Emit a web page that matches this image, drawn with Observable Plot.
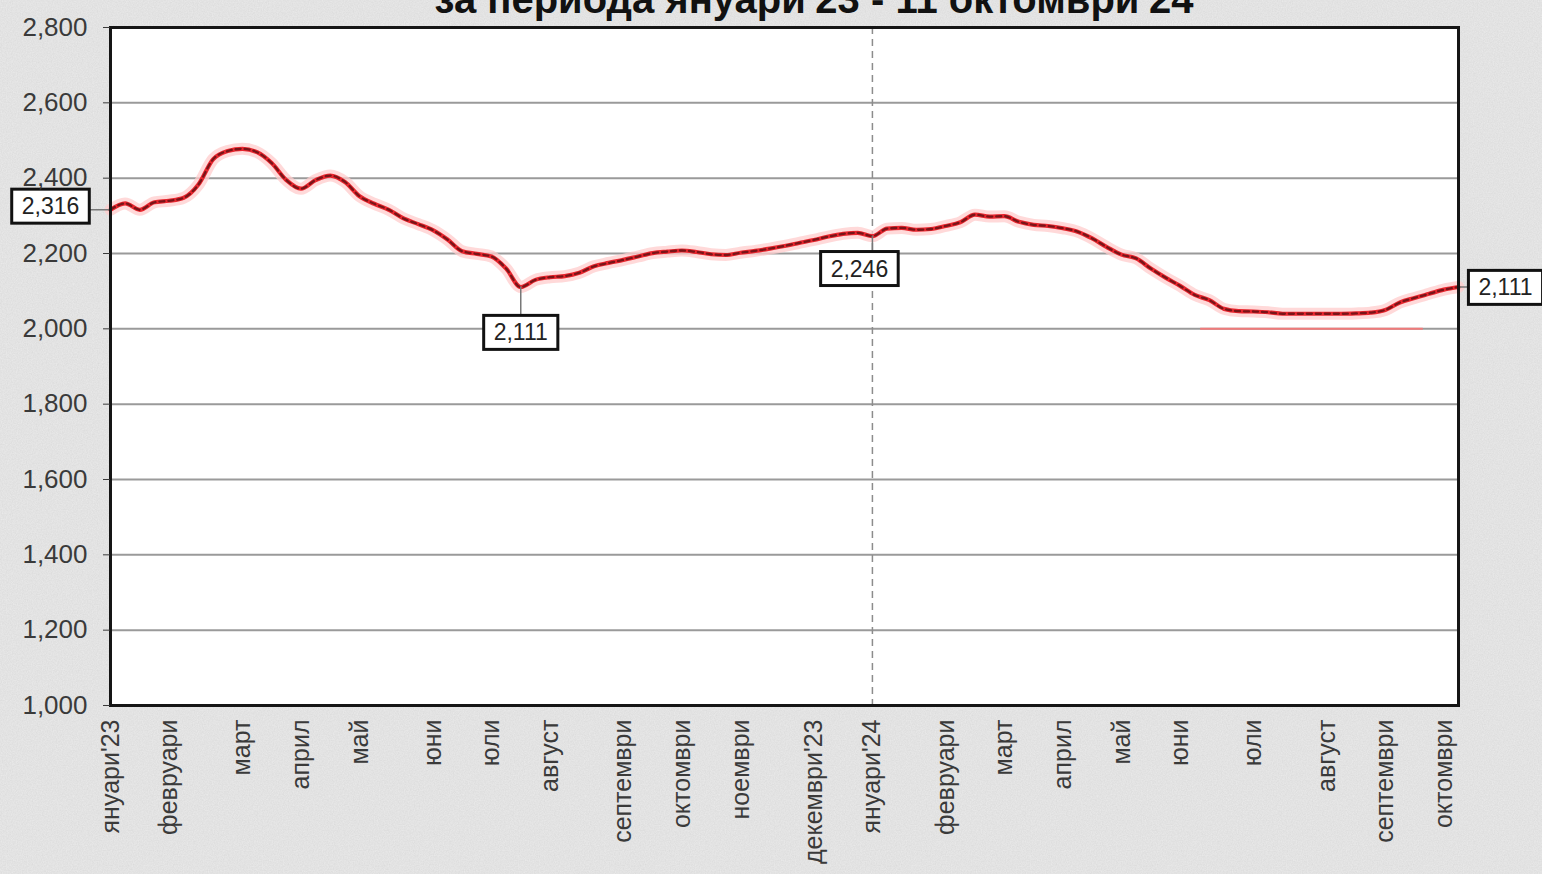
<!DOCTYPE html>
<html>
<head>
<meta charset="utf-8">
<script src="https://cdn.jsdelivr.net/npm/d3@7"></script>
<script src="https://cdn.jsdelivr.net/npm/@observablehq/plot@0.6"></script>
<style>
html, body { margin: 0; padding: 0; }
body {
  width: 1542px; height: 874px; overflow: hidden; position: relative;
  background-color: #ebebeb;
  background-image: url("data:image/svg+xml;utf8,<svg xmlns='http://www.w3.org/2000/svg' width='256' height='256'><filter id='n'><feTurbulence type='fractalNoise' baseFrequency='0.8' numOctaves='2' stitchTiles='stitch'/><feColorMatrix values='0 0 0 0 0.45  0 0 0 0 0.45  0 0 0 0 0.45  0 0 0 0.3 0'/></filter><rect width='100%' height='100%' filter='url(%23n)'/></svg>");
  font-family: "Liberation Sans", Arial, sans-serif;
}
#chart { position: absolute; left: 0; top: 0; }
#title {
  position: absolute; left: 814px; top: -21px; transform: translateX(-50%);
  white-space: nowrap; font-weight: bold; font-size: 40px; line-height: 40px; color: #111;
  font-family: "Liberation Sans", Arial, sans-serif;
}
</style>
</head>
<body>
<div id="chart"></div>
<div id="title">за периода януари'23 - 11 октомври'24</div>
<script>
// Weekly price values, January 2023 – 11 October 2024
const prices = [
  2316, 2333, 2316, 2336, 2340, 2348, 2383, 2450, 2472, 2478,
  2469, 2440, 2395, 2372, 2395, 2407, 2390, 2352, 2332, 2316,
  2293, 2278, 2262, 2237, 2206, 2199, 2192, 2160, 2111, 2130,
  2137, 2140, 2149, 2166, 2175, 2183, 2192, 2201, 2205, 2208,
  2204, 2198, 2196, 2202, 2207, 2213, 2220, 2228, 2236, 2245,
  2252, 2255, 2246, 2266, 2268, 2263, 2265, 2273, 2283, 2303,
  2298, 2299, 2284, 2276, 2273, 2267, 2258, 2240, 2217, 2197,
  2187, 2160, 2136, 2114, 2090, 2076, 2053, 2047, 2046, 2044,
  2040, 2040, 2040, 2040, 2040, 2041, 2043, 2050, 2070, 2082,
  2093, 2104, 2111
];
const weeks = prices.map((_, i) => i);

// Month tick labels and the week they sit on
const tickWeeks = [0, 4, 9, 13, 17, 22, 26, 30, 35, 39, 43, 48, 52, 57, 61, 65, 69, 73, 78, 83, 87, 91];
const tickLabels = ["януари'23", "февруари", "март", "април", "май", "юни", "юли", "август", "септември", "октомври", "ноември", "декември'23",
                    "януари'24", "февруари", "март", "април", "май", "юни", "юли", "август", "септември", "октомври"];

const yTicks = [1000, 1200, 1400, 1600, 1800, 2000, 2200, 2400, 2600, 2800];
const yGrid = [1200, 1400, 1600, 1800, 2000, 2200, 2400, 2600];

// Year divider week
const dividerWeek = [52];
// Red band on the 2,000 line (weeks)
const floorFrom = [74.4];
const floorTo = [89.6];
const floorValue = [2000];

// Annotated weeks and their labels
const annWeeks = [0, 28, 52, 92];
const annLabels = ["2,316", "2,111", "2,246", "2,111"];

const fmt = d3.format(",");
const X = i => weeks[i];
const Y = i => prices[i];

function ann(k, dx, dy) {
  return Plot.text([annWeeks[k]], {
    x: X, y: Y, text: () => annLabels[k], dx, dy,
    fontSize: 23, fill: "#222",
    fontFamily: "Liberation Sans, Arial, sans-serif"
  });
}
const leaderShape = { draw(ctx, l) { ctx.moveTo(0, 0); ctx.lineTo(0, -l); } };
function leader(k, rotate, length) {
  return Plot.vector([annWeeks[k]], {
    x: X, y: Y, rotate, length, anchor: "start", shape: leaderShape,
    stroke: "#777", strokeWidth: 1.5
  });
}

const chart = Plot.plot({
  width: 1542,
  height: 874,
  marginLeft: 110,
  marginRight: 84,
  marginTop: 27,
  marginBottom: 169,
  x: { domain: [0, 92] },
  y: { domain: [1000, 2800] },
  style: { background: "transparent", fontFamily: "Liberation Sans, Arial, sans-serif", overflow: "visible" },
  marks: [
    Plot.frame({ fill: "white", stroke: null }),
    Plot.ruleY(yGrid, { stroke: "#9a9a9a", strokeWidth: 2 }),
    Plot.ruleY(floorValue, { x1: () => floorFrom[0], x2: () => floorTo[0], stroke: "#f07a7a", strokeWidth: 2 }),
    Plot.ruleX(dividerWeek, { stroke: "#8c8c8c", strokeWidth: 1.5, strokeDasharray: "7,5" }),
    Plot.line(weeks, { x: X, y: Y, stroke: "#ffcccc", strokeWidth: 12, curve: "monotone-x", strokeOpacity: 0.75 }),
    Plot.line(weeks, { x: X, y: Y, stroke: "#e8262e", strokeWidth: 4.2, curve: "monotone-x" }),
    Plot.line(weeks, { x: X, y: Y, stroke: "#7a1418", strokeWidth: 2.3, strokeDasharray: "5,4", curve: "monotone-x" }),
    leader(0, 270, 20),
    leader(1, 180, 29),
    leader(2, 180, 16),
    leader(3, 90, 10),
    ann(0, -60, -3),
    ann(1, 0, 46),
    ann(2, -13, 33),
    ann(3, 47, 1),
    Plot.frame({ stroke: "#151515", strokeWidth: 3 }),
    Plot.axisY({
      ticks: yTicks, tickFormat: fmt, tickSize: 7, tickPadding: 16,
      fontSize: 26, color: "#3a3a3a"
    }),
    Plot.axisX({
      ticks: tickWeeks, tickFormat: i => tickLabels[tickWeeks.indexOf(i)],
      tickRotate: -90, tickSize: 0, tickPadding: 14, fontSize: 25, color: "#3a3a3a"
    })
  ]
});

document.getElementById("chart").append(chart);

// Draw boxes behind the annotation labels (the plain text marks)
const svgNS = "http://www.w3.org/2000/svg";
chart.querySelectorAll('g[aria-label="text"] text').forEach(t => {
  if (!annLabels.includes(t.textContent)) return;
  const b = t.getBBox();
  const r = document.createElementNS(svgNS, "rect");
  r.setAttribute("x", b.x - 10);
  r.setAttribute("y", b.y - 4);
  r.setAttribute("width", b.width + 20);
  r.setAttribute("height", b.height + 8);
  r.setAttribute("fill", "white");
  r.setAttribute("stroke", "#111");
  r.setAttribute("stroke-width", "3");
  const tr = t.getAttribute("transform");
  if (tr) r.setAttribute("transform", tr);
  t.parentNode.insertBefore(r, t);
});
</script>
</body>
</html>
